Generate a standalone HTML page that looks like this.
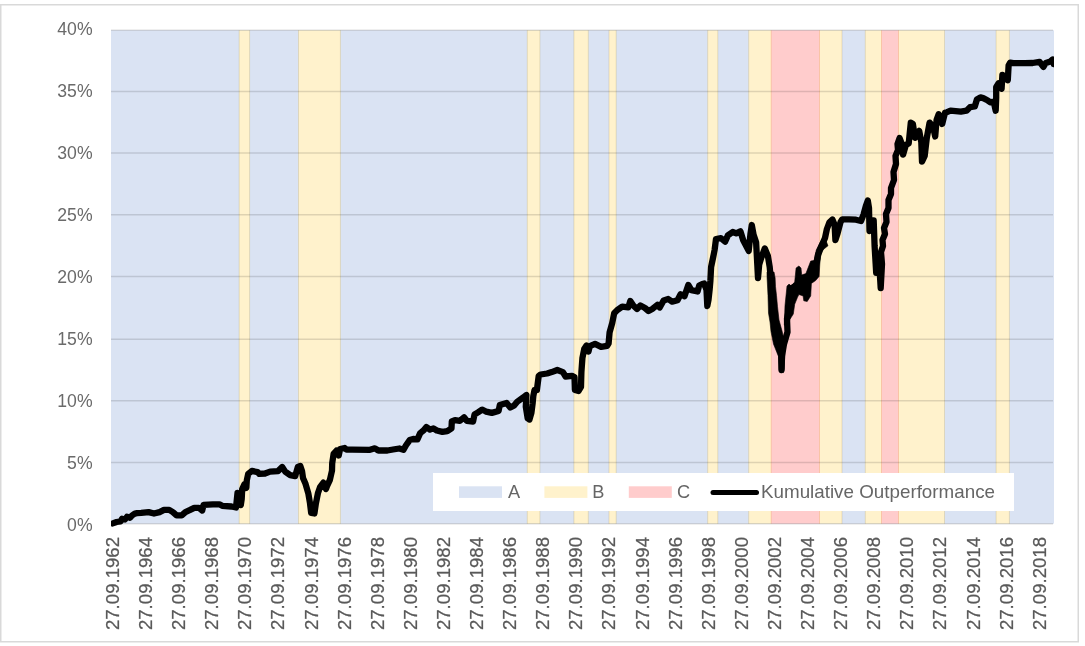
<!DOCTYPE html><html><head><meta charset="utf-8"><style>html,body{margin:0;padding:0;background:#fff;width:1085px;height:646px;overflow:hidden}svg{display:block;will-change:transform}text{font-family:"Liberation Sans",Arial,sans-serif;fill:#595959}</style></head><body>
<svg width="1085" height="646" viewBox="0 0 1085 646">
<defs><clipPath id="pc"><rect x="111" y="0" width="943" height="646"/></clipPath></defs>
<rect x="0.75" y="4.75" width="1077.5" height="637" fill="#fff" stroke="#d9d9d9" stroke-width="1.5"/>
<rect x="111" y="30.3" width="943" height="493.40000000000003" fill="#dae3f3"/>
<rect x="239.2" y="30.3" width="10.4" height="493.40000000000003" fill="#fff2cc"/>
<rect x="298.5" y="30.3" width="41.9" height="493.40000000000003" fill="#fff2cc"/>
<rect x="527.3" y="30.3" width="12.6" height="493.40000000000003" fill="#fff2cc"/>
<rect x="573.9" y="30.3" width="14.4" height="493.40000000000003" fill="#fff2cc"/>
<rect x="609" y="30.3" width="7.2" height="493.40000000000003" fill="#fff2cc"/>
<rect x="707.7" y="30.3" width="10.1" height="493.40000000000003" fill="#fff2cc"/>
<rect x="748.7" y="30.3" width="22.5" height="493.40000000000003" fill="#fff2cc"/>
<rect x="819.5" y="30.3" width="22.5" height="493.40000000000003" fill="#fff2cc"/>
<rect x="865.3" y="30.3" width="16.2" height="493.40000000000003" fill="#fff2cc"/>
<rect x="898.5" y="30.3" width="46.0" height="493.40000000000003" fill="#fff2cc"/>
<rect x="996.1" y="30.3" width="13.3" height="493.40000000000003" fill="#fff2cc"/>
<rect x="771.2" y="30.3" width="48.3" height="493.40000000000003" fill="#ffcccc"/>
<rect x="881.5" y="30.3" width="17.0" height="493.40000000000003" fill="#ffcccc"/>
<line x1="239.2" x2="239.2" y1="30.3" y2="523.7" stroke="#b4a064" stroke-opacity="0.28" stroke-width="1"/>
<line x1="249.6" x2="249.6" y1="30.3" y2="523.7" stroke="#b4a064" stroke-opacity="0.28" stroke-width="1"/>
<line x1="298.5" x2="298.5" y1="30.3" y2="523.7" stroke="#b4a064" stroke-opacity="0.28" stroke-width="1"/>
<line x1="340.4" x2="340.4" y1="30.3" y2="523.7" stroke="#b4a064" stroke-opacity="0.28" stroke-width="1"/>
<line x1="527.3" x2="527.3" y1="30.3" y2="523.7" stroke="#b4a064" stroke-opacity="0.28" stroke-width="1"/>
<line x1="539.9" x2="539.9" y1="30.3" y2="523.7" stroke="#b4a064" stroke-opacity="0.28" stroke-width="1"/>
<line x1="573.9" x2="573.9" y1="30.3" y2="523.7" stroke="#b4a064" stroke-opacity="0.28" stroke-width="1"/>
<line x1="588.3" x2="588.3" y1="30.3" y2="523.7" stroke="#b4a064" stroke-opacity="0.28" stroke-width="1"/>
<line x1="609" x2="609" y1="30.3" y2="523.7" stroke="#b4a064" stroke-opacity="0.28" stroke-width="1"/>
<line x1="616.2" x2="616.2" y1="30.3" y2="523.7" stroke="#b4a064" stroke-opacity="0.28" stroke-width="1"/>
<line x1="707.7" x2="707.7" y1="30.3" y2="523.7" stroke="#b4a064" stroke-opacity="0.28" stroke-width="1"/>
<line x1="717.8" x2="717.8" y1="30.3" y2="523.7" stroke="#b4a064" stroke-opacity="0.28" stroke-width="1"/>
<line x1="748.7" x2="748.7" y1="30.3" y2="523.7" stroke="#b4a064" stroke-opacity="0.28" stroke-width="1"/>
<line x1="771.2" x2="771.2" y1="30.3" y2="523.7" stroke="#ff9a50" stroke-opacity="0.35" stroke-width="1"/>
<line x1="819.5" x2="819.5" y1="30.3" y2="523.7" stroke="#ff9a50" stroke-opacity="0.35" stroke-width="1"/>
<line x1="842" x2="842" y1="30.3" y2="523.7" stroke="#b4a064" stroke-opacity="0.28" stroke-width="1"/>
<line x1="865.3" x2="865.3" y1="30.3" y2="523.7" stroke="#b4a064" stroke-opacity="0.28" stroke-width="1"/>
<line x1="881.5" x2="881.5" y1="30.3" y2="523.7" stroke="#ff9a50" stroke-opacity="0.35" stroke-width="1"/>
<line x1="898.5" x2="898.5" y1="30.3" y2="523.7" stroke="#ff9a50" stroke-opacity="0.35" stroke-width="1"/>
<line x1="944.5" x2="944.5" y1="30.3" y2="523.7" stroke="#b4a064" stroke-opacity="0.28" stroke-width="1"/>
<line x1="996.1" x2="996.1" y1="30.3" y2="523.7" stroke="#b4a064" stroke-opacity="0.28" stroke-width="1"/>
<line x1="1009.4" x2="1009.4" y1="30.3" y2="523.7" stroke="#b4a064" stroke-opacity="0.28" stroke-width="1"/>
<line x1="111" x2="1053" y1="30.20" y2="30.20" stroke="#000" stroke-opacity="0.13" stroke-width="1.5"/>
<line x1="111" x2="1053" y1="91.60" y2="91.60" stroke="#000" stroke-opacity="0.13" stroke-width="1.5"/>
<line x1="111" x2="1053" y1="152.90" y2="152.90" stroke="#000" stroke-opacity="0.13" stroke-width="1.5"/>
<line x1="111" x2="1053" y1="214.85" y2="214.85" stroke="#000" stroke-opacity="0.13" stroke-width="1.5"/>
<line x1="111" x2="1053" y1="276.40" y2="276.40" stroke="#000" stroke-opacity="0.13" stroke-width="1.5"/>
<line x1="111" x2="1053" y1="339.15" y2="339.15" stroke="#000" stroke-opacity="0.13" stroke-width="1.5"/>
<line x1="111" x2="1053" y1="400.80" y2="400.80" stroke="#000" stroke-opacity="0.13" stroke-width="1.5"/>
<line x1="111" x2="1053" y1="462.50" y2="462.50" stroke="#000" stroke-opacity="0.13" stroke-width="1.5"/>
<line x1="111" x2="1053" y1="523.80" y2="523.80" stroke="#000" stroke-opacity="0.13" stroke-width="1.5"/>
<text transform="translate(92.6,35.10) scale(0.97,1)" text-anchor="end" font-size="18.2" fill="#6a6a6a" style="fill:#6a6a6a">40%</text>
<text transform="translate(92.6,97.03) scale(0.97,1)" text-anchor="end" font-size="18.2" fill="#6a6a6a" style="fill:#6a6a6a">35%</text>
<text transform="translate(92.6,158.95) scale(0.97,1)" text-anchor="end" font-size="18.2" fill="#6a6a6a" style="fill:#6a6a6a">30%</text>
<text transform="translate(92.6,220.87) scale(0.97,1)" text-anchor="end" font-size="18.2" fill="#6a6a6a" style="fill:#6a6a6a">25%</text>
<text transform="translate(92.6,282.80) scale(0.97,1)" text-anchor="end" font-size="18.2" fill="#6a6a6a" style="fill:#6a6a6a">20%</text>
<text transform="translate(92.6,344.73) scale(0.97,1)" text-anchor="end" font-size="18.2" fill="#6a6a6a" style="fill:#6a6a6a">15%</text>
<text transform="translate(92.6,406.65) scale(0.97,1)" text-anchor="end" font-size="18.2" fill="#6a6a6a" style="fill:#6a6a6a">10%</text>
<text transform="translate(92.6,468.57) scale(0.97,1)" text-anchor="end" font-size="18.2" fill="#6a6a6a" style="fill:#6a6a6a">5%</text>
<text transform="translate(92.6,530.50) scale(0.97,1)" text-anchor="end" font-size="18.2" fill="#6a6a6a" style="fill:#6a6a6a">0%</text>
<text transform="translate(118.90,537) rotate(-90)" text-anchor="end" font-size="18.6" stroke="#595959" stroke-width="0.25">27.09.1962</text>
<text transform="translate(152.00,537) rotate(-90)" text-anchor="end" font-size="18.6" stroke="#595959" stroke-width="0.25">27.09.1964</text>
<text transform="translate(185.11,537) rotate(-90)" text-anchor="end" font-size="18.6" stroke="#595959" stroke-width="0.25">27.09.1966</text>
<text transform="translate(218.21,537) rotate(-90)" text-anchor="end" font-size="18.6" stroke="#595959" stroke-width="0.25">27.09.1968</text>
<text transform="translate(251.31,537) rotate(-90)" text-anchor="end" font-size="18.6" stroke="#595959" stroke-width="0.25">27.09.1970</text>
<text transform="translate(284.42,537) rotate(-90)" text-anchor="end" font-size="18.6" stroke="#595959" stroke-width="0.25">27.09.1972</text>
<text transform="translate(317.52,537) rotate(-90)" text-anchor="end" font-size="18.6" stroke="#595959" stroke-width="0.25">27.09.1974</text>
<text transform="translate(350.62,537) rotate(-90)" text-anchor="end" font-size="18.6" stroke="#595959" stroke-width="0.25">27.09.1976</text>
<text transform="translate(383.73,537) rotate(-90)" text-anchor="end" font-size="18.6" stroke="#595959" stroke-width="0.25">27.09.1978</text>
<text transform="translate(416.83,537) rotate(-90)" text-anchor="end" font-size="18.6" stroke="#595959" stroke-width="0.25">27.09.1980</text>
<text transform="translate(449.94,537) rotate(-90)" text-anchor="end" font-size="18.6" stroke="#595959" stroke-width="0.25">27.09.1982</text>
<text transform="translate(483.04,537) rotate(-90)" text-anchor="end" font-size="18.6" stroke="#595959" stroke-width="0.25">27.09.1984</text>
<text transform="translate(516.14,537) rotate(-90)" text-anchor="end" font-size="18.6" stroke="#595959" stroke-width="0.25">27.09.1986</text>
<text transform="translate(549.25,537) rotate(-90)" text-anchor="end" font-size="18.6" stroke="#595959" stroke-width="0.25">27.09.1988</text>
<text transform="translate(582.35,537) rotate(-90)" text-anchor="end" font-size="18.6" stroke="#595959" stroke-width="0.25">27.09.1990</text>
<text transform="translate(615.45,537) rotate(-90)" text-anchor="end" font-size="18.6" stroke="#595959" stroke-width="0.25">27.09.1992</text>
<text transform="translate(648.56,537) rotate(-90)" text-anchor="end" font-size="18.6" stroke="#595959" stroke-width="0.25">27.09.1994</text>
<text transform="translate(681.66,537) rotate(-90)" text-anchor="end" font-size="18.6" stroke="#595959" stroke-width="0.25">27.09.1996</text>
<text transform="translate(714.76,537) rotate(-90)" text-anchor="end" font-size="18.6" stroke="#595959" stroke-width="0.25">27.09.1998</text>
<text transform="translate(747.87,537) rotate(-90)" text-anchor="end" font-size="18.6" stroke="#595959" stroke-width="0.25">27.09.2000</text>
<text transform="translate(780.97,537) rotate(-90)" text-anchor="end" font-size="18.6" stroke="#595959" stroke-width="0.25">27.09.2002</text>
<text transform="translate(814.07,537) rotate(-90)" text-anchor="end" font-size="18.6" stroke="#595959" stroke-width="0.25">27.09.2004</text>
<text transform="translate(847.18,537) rotate(-90)" text-anchor="end" font-size="18.6" stroke="#595959" stroke-width="0.25">27.09.2006</text>
<text transform="translate(880.28,537) rotate(-90)" text-anchor="end" font-size="18.6" stroke="#595959" stroke-width="0.25">27.09.2008</text>
<text transform="translate(913.39,537) rotate(-90)" text-anchor="end" font-size="18.6" stroke="#595959" stroke-width="0.25">27.09.2010</text>
<text transform="translate(946.49,537) rotate(-90)" text-anchor="end" font-size="18.6" stroke="#595959" stroke-width="0.25">27.09.2012</text>
<text transform="translate(979.59,537) rotate(-90)" text-anchor="end" font-size="18.6" stroke="#595959" stroke-width="0.25">27.09.2014</text>
<text transform="translate(1012.70,537) rotate(-90)" text-anchor="end" font-size="18.6" stroke="#595959" stroke-width="0.25">27.09.2016</text>
<text transform="translate(1045.80,537) rotate(-90)" text-anchor="end" font-size="18.6" stroke="#595959" stroke-width="0.25">27.09.2018</text>
<polygon clip-path="url(#pc)" points="767,272 767.1,277.8 768,295.6 768.5,313 770,322 771,331.6 773.5,344 778.5,356.5 779.2,368.9 780,372.6 783.5,372.6 784.2,368.9 784.7,356.5 784.7,344 782.2,331.6 779,320 777.5,306.7 776.5,295.6 775.5,286.7 775.1,277.8 774,272" fill="#000" stroke="#000" stroke-width="0.6" stroke-linejoin="round"/>
<polygon clip-path="url(#pc)" points="784.3,325.1 785,305.6 787,286.1 789.1,284 791.2,286.1 794.7,282 796.1,268 798.9,266 801,268 801.7,275 805.9,273.6 810.7,261.1 814.2,260.4 816.3,249.9 819.8,243 824,236 828,245.7 821.2,251.3 819.8,263.9 819.1,276.4 815.6,280.6 811.4,283.4 810.7,295.9 807.2,301.5 803.8,300.8 803.1,295.9 798.9,294.5 797.5,297.3 794.7,304.2 793.3,314 789.8,319.6 788.4,326" fill="#000" stroke="#000" stroke-width="0.6" stroke-linejoin="round"/>
<path clip-path="url(#pc)" d="M112.8,523.4 L116.6,522.0 L120.5,521.3 L122.0,518.8 L125.0,519.5 L127.0,516.8 L130.0,517.8 L132.0,515.5 L134.8,513.6 L137.0,513.2 L141.2,512.9 L148.6,512.1 L154.0,513.5 L159.6,512.1 L164.0,509.9 L169.2,509.9 L172.9,512.1 L176.6,515.4 L181.7,515.4 L185.4,512.1 L189.6,510.2 L194.3,507.9 L198.9,507.9 L202.2,510.5 L203.6,504.8 L212.9,504.3 L219.4,504.3 L222.2,505.8 L231.5,506.5 L236.0,507.5 L237.5,493.0 L238.5,504.0 L240.8,505.0 L241.7,499.0 L242.2,489.0 L244.5,484.2 L246.3,487.9 L246.8,480.4 L248.2,473.9 L251.9,470.9 L257.5,472.1 L259.3,473.9 L265.0,473.5 L270.1,471.6 L278.1,471.1 L282.2,467.0 L285.2,471.6 L290.2,475.1 L295.2,476.1 L297.8,467.0 L300.3,466.0 L302.0,471.0 L303.0,478.0 L305.3,483.2 L308.3,493.3 L310.0,503.3 L311.2,513.0 L314.4,513.5 L315.9,503.3 L317.9,493.3 L320.0,487.2 L323.4,482.7 L326.0,489.0 L327.1,486.0 L329.9,479.9 L332.0,470.6 L332.2,463.2 L333.6,453.9 L336.4,450.7 L338.7,455.5 L340.1,449.0 L344.7,448.0 L346.6,449.7 L352.1,449.7 L370.0,449.8 L374.9,448.3 L378.4,450.5 L387.4,450.5 L393.0,449.5 L399.3,448.5 L403.4,449.8 L406.2,445.0 L409.7,440.1 L413.2,439.0 L417.4,439.4 L420.2,433.1 L423.7,430.3 L426.4,427.0 L430.0,429.6 L433.4,428.4 L436.8,430.5 L442.4,431.9 L447.3,431.2 L451.5,428.4 L451.8,421.5 L455.0,420.1 L459.8,420.8 L464.0,417.3 L466.8,420.8 L473.1,421.5 L474.5,414.5 L478.0,412.4 L482.1,409.6 L485.0,411.0 L486.2,411.6 L491.8,412.9 L498.6,411.0 L499.8,405.0 L506.6,403.0 L510.3,407.5 L514.1,405.4 L517.2,401.7 L523.3,397.4 L526.4,395.0 L525.8,406.7 L527.7,418.4 L529.5,419.5 L531.4,412.9 L532.6,403.6 L533.3,396.1 L534.5,390.0 L536.9,390.0 L538.7,376.0 L540.6,374.5 L547.1,373.5 L551.7,372.1 L557.3,370.0 L562.9,372.1 L565.6,376.5 L572.1,375.9 L574.5,377.0 L574.9,390.0 L578.6,391.0 L581.0,387.0 L581.4,372.1 L582.4,358.2 L584.2,349.0 L586.5,345.5 L588.5,351.5 L589.8,346.1 L595.0,343.9 L601.1,346.9 L607.1,345.9 L608.6,343.4 L609.6,332.3 L612.2,323.2 L614.2,313.2 L617.2,310.1 L622.2,306.6 L628.3,307.4 L630.3,301.0 L633.3,305.5 L637.0,309.0 L640.4,305.5 L645.0,308.0 L648.5,311.0 L652.7,308.7 L657.4,304.8 L659.7,307.5 L663.6,300.4 L668.2,299.0 L672.1,301.7 L677.5,300.2 L680.6,294.2 L684.5,296.3 L688.3,285.0 L691.4,290.1 L697.6,291.5 L699.2,285.5 L702.3,284.0 L704.2,283.5 L706.5,290.0 L707.3,306.0 L708.5,300.0 L709.6,290.0 L710.4,280.7 L711.1,267.0 L713.2,257.0 L714.6,250.0 L716.0,239.0 L720.9,238.2 L725.1,241.7 L727.9,235.4 L732.7,232.0 L736.2,233.4 L740.4,231.3 L743.2,240.3 L747.4,248.4 L748.7,250.9 L750.5,233.6 L751.8,225.0 L753.6,234.8 L756.1,242.2 L757.3,264.5 L758.0,278.0 L759.2,264.5 L761.1,258.3 L764.8,248.4 L767.9,255.9 L769.7,267.0 L770.2,272.5 L771.0,280.0 L772.0,300.0 L774.0,320.0 L777.0,338.0 L781.3,355.0 L781.5,370.0 L782.0,356.0 L784.0,344.0 L787.5,332.0 L787.0,319.0 L789.5,306.7 L790.0,295.0 L792.0,288.0 L797.0,285.0 L804.0,287.0 L808.0,280.0 L813.0,272.0 L816.0,265.0 L818.0,255.0 L822.0,245.0 L825.0,238.0 L826.9,229.0 L829.5,222.2 L832.4,219.5 L834.6,224.8 L835.4,240.0 L837.6,233.3 L840.5,222.2 L842.2,219.3 L849.0,219.3 L855.9,219.7 L861.0,221.0 L863.5,214.6 L866.1,205.2 L867.8,200.5 L869.0,208.0 L869.5,231.0 L871.2,220.5 L873.7,220.5 L874.6,246.0 L876.2,272.9 L879.0,259.9 L880.7,288.0 L882.0,264.0 L881.0,252.0 L883.0,246.0 L882.5,240.0 L885.0,234.0 L884.0,228.0 L886.5,222.0 L886.0,214.0 L888.5,208.0 L888.5,200.0 L891.0,194.0 L891.0,188.0 L894.0,180.0 L893.5,172.0 L896.0,164.0 L895.5,156.0 L898.0,150.0 L897.5,144.0 L899.6,138.0 L901.7,143.5 L903.1,154.6 L905.9,144.9 L908.7,143.5 L910.8,122.6 L912.9,123.9 L915.0,137.9 L919.2,130.9 L921.3,142.1 L922.0,161.6 L924.7,156.0 L926.8,137.9 L929.6,122.6 L933.1,126.7 L935.2,136.5 L936.6,119.8 L938.7,114.2 L942.2,123.9 L945.0,112.8 L947.0,112.1 L950.5,110.7 L960.9,111.7 L966.5,110.7 L970.0,107.2 L974.8,106.5 L976.9,99.5 L980.4,97.4 L983.2,98.1 L987.4,100.2 L990.2,102.3 L993.7,101.6 L995.7,110.7 L996.2,98.0 L996.2,87.2 L998.5,83.3 L1001.6,88.7 L1002.4,74.8 L1007.8,80.2 L1008.6,65.5 L1010.1,62.6 L1013.2,63.2 L1024.9,63.2 L1032.6,63.0 L1039.6,61.8 L1043.4,67.0 L1045.8,63.0 L1050.4,61.5 L1052.7,59.5 L1053.6,64.0" fill="none" stroke="#000" stroke-width="6.3" stroke-linejoin="round" stroke-linecap="round"/>
<rect x="433" y="473" width="581" height="38" fill="#fff"/>
<rect x="459" y="486.3" width="43" height="11.6" fill="#dae3f3"/>
<text x="508" y="498" font-size="18.2" style="fill:#666">A</text>
<rect x="544.4" y="486.3" width="43" height="11.6" fill="#fff2cc"/>
<text x="592.3" y="498" font-size="18.2" style="fill:#666">B</text>
<rect x="628.8" y="486.3" width="43" height="11.6" fill="#ffcccc"/>
<text x="677" y="498" font-size="18.2" style="fill:#666">C</text>
<line x1="713" x2="756.5" y1="492.4" y2="492.4" stroke="#000" stroke-width="5" stroke-linecap="round"/>
<text x="761" y="498" font-size="18.2" textLength="234" lengthAdjust="spacingAndGlyphs" style="fill:#666">Kumulative Outperformance</text>
</svg></body></html>
